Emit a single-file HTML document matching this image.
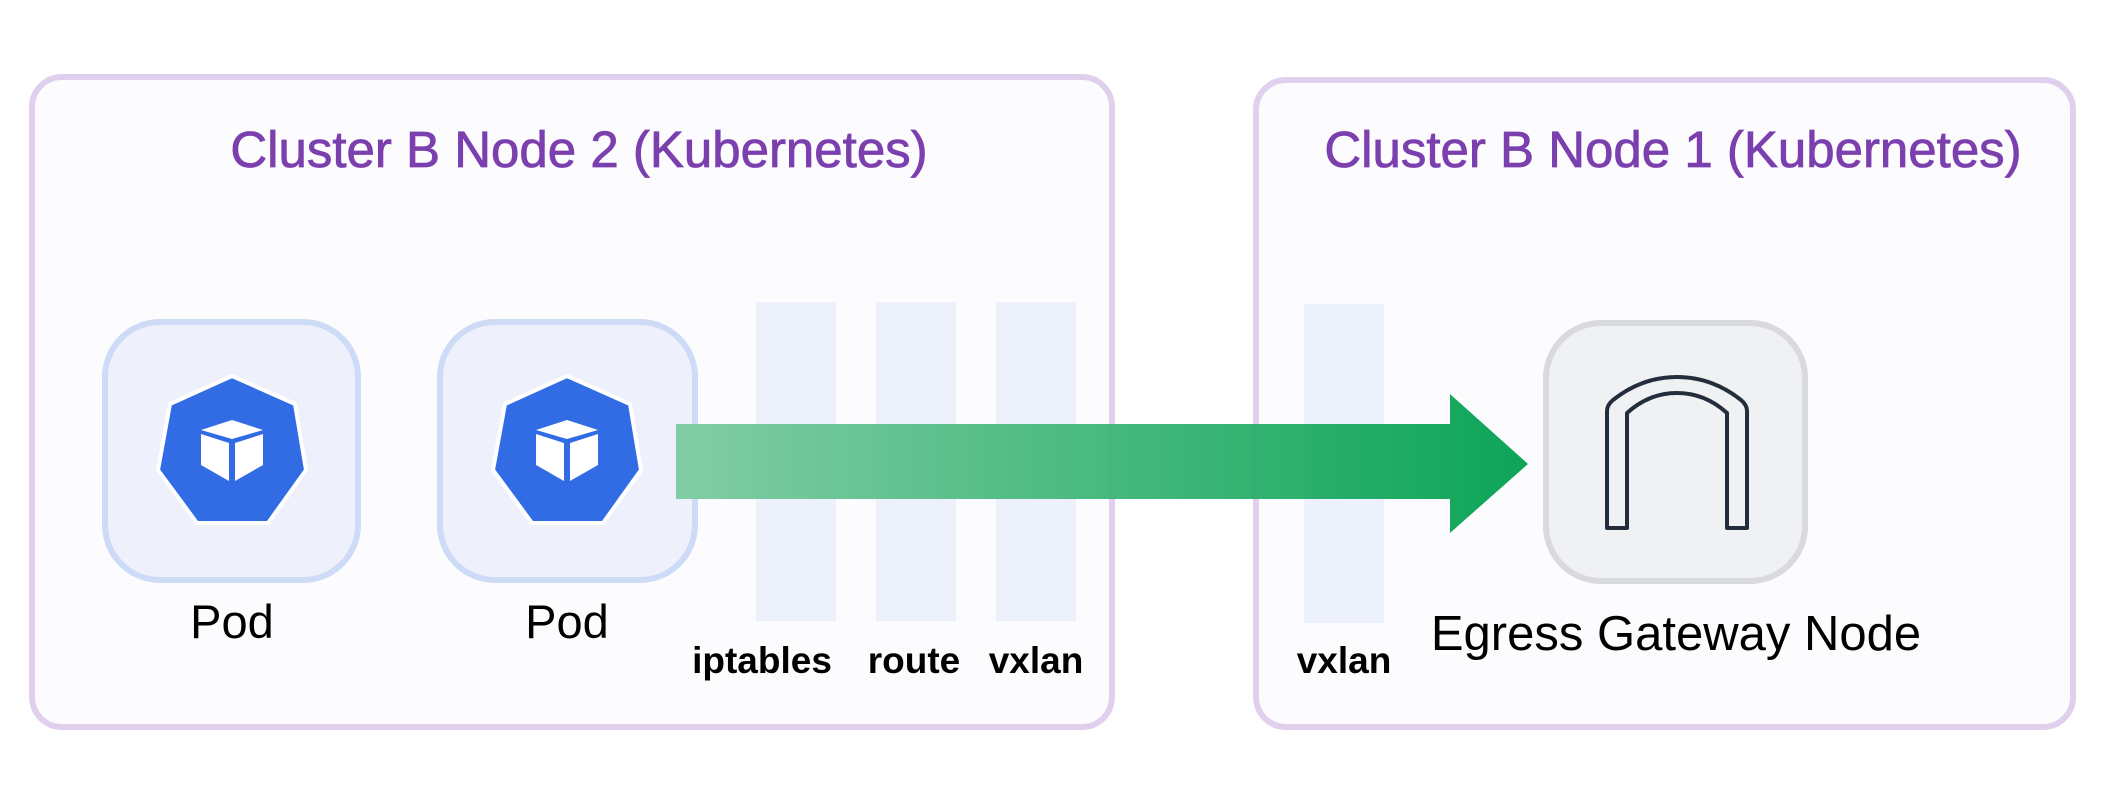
<!DOCTYPE html>
<html><head><meta charset="utf-8"><style>html,body{margin:0;padding:0;background:#fff}svg{display:block}</style></head>
<body>
<svg width="2120" height="800" viewBox="0 0 2120 800" xmlns="http://www.w3.org/2000/svg" font-family="Liberation Sans, sans-serif">
<defs>
<linearGradient id="g" x1="676" y1="0" x2="1530" y2="0" gradientUnits="userSpaceOnUse">
<stop offset="0" stop-color="#7ccba1"/><stop offset="1" stop-color="#00a04f"/>
</linearGradient>
<g id="k8s">
<polygon points="232,376 295,404 306,470 268,523 197,523 158,470 170,404" fill="#326ce5" stroke="#fff" stroke-width="4" stroke-linejoin="round"/>
<polygon points="201,430 232,420 263,430 232,439" fill="#fff"/>
<polygon points="201,434 229,443 229,481 201,465" fill="#fff"/>
<polygon points="235,443 263,434 263,465 235,481" fill="#fff"/>
</g>
</defs>
<rect x="32" y="77" width="1080" height="650" rx="30" fill="#fcfcfe" stroke="#e0d0ee" stroke-width="6"/>
<rect x="1256" y="80" width="817" height="647" rx="30" fill="#fcfcfe" stroke="#e0d0ee" stroke-width="6"/>
<text x="579" y="167" text-anchor="middle" font-size="51" fill="#7b3fae" stroke="#7b3fae" stroke-width="0.8">Cluster B Node 2 (Kubernetes)</text>
<text x="1673" y="167" text-anchor="middle" font-size="51" fill="#7b3fae" stroke="#7b3fae" stroke-width="0.8">Cluster B Node 1 (Kubernetes)</text>
<rect x="105" y="322" width="253" height="258" rx="55" fill="#eef1fc" stroke="#cddbf6" stroke-width="6"/>
<rect x="440" y="322" width="255" height="258" rx="55" fill="#eef1fc" stroke="#cddbf6" stroke-width="6"/>
<use href="#k8s"/>
<use href="#k8s" x="335"/>
<text x="232" y="638" text-anchor="middle" font-size="47" fill="#000">Pod</text>
<text x="567" y="638" text-anchor="middle" font-size="47" fill="#000">Pod</text>
<rect x="756" y="302" width="80" height="319" fill="#edf1fc"/>
<rect x="876" y="302" width="80" height="319" fill="#edf1fc"/>
<rect x="996" y="302" width="80" height="319" fill="#edf1fc"/>
<rect x="1304" y="304" width="80" height="319" fill="#edf1fc"/>
<text x="762" y="673" text-anchor="middle" font-size="37" font-weight="bold" fill="#000">iptables</text>
<text x="914" y="673" text-anchor="middle" font-size="37" font-weight="bold" fill="#000">route</text>
<text x="1036" y="673" text-anchor="middle" font-size="37" font-weight="bold" fill="#000">vxlan</text>
<text x="1344" y="673" text-anchor="middle" font-size="37" font-weight="bold" fill="#000">vxlan</text>
<rect x="1546" y="323" width="259" height="258" rx="55" fill="#f0f1f3" stroke="#d9dadc" stroke-width="6"/>
<path d="M1607 528 L1607 411 Q1607 405 1613 400 Q1642 377 1677 377 Q1712 377 1741 400 Q1747 405 1747 411 L1747 528 L1727 528 L1727 413 Q1705 393 1677 393 Q1649 393 1627 413 L1627 528 Z" fill="none" stroke="#232d3b" stroke-width="4" stroke-linejoin="round"/>
<text x="1676" y="650" text-anchor="middle" font-size="49" fill="#000">Egress Gateway Node</text>
<polygon points="676,424 1450,424 1450,394 1528,464 1450,533 1450,499 676,499" fill="url(#g)" opacity="0.95"/>
</svg>
</body></html>
